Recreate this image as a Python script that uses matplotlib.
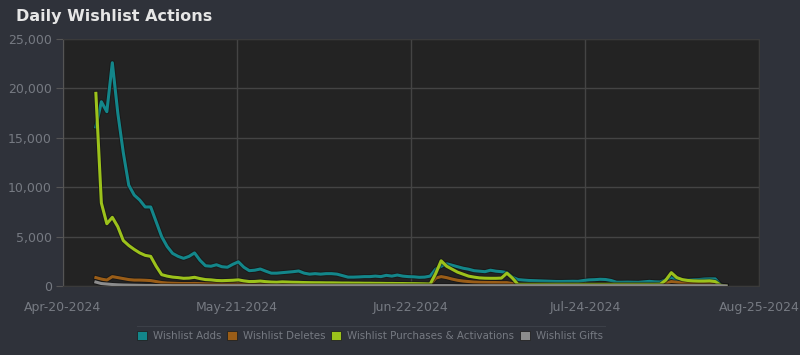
import matplotlib
matplotlib.use("Agg")
import matplotlib.pyplot as plt
import matplotlib.dates as mdates
from matplotlib.lines import Line2D
from matplotlib.patches import Patch
import numpy as np
import pandas as pd

# daily values, starting Apr-26-2024
start_date = "2024-04-26"
wishlist_adds = [
    16100, 18650, 17640, 22600, 17500, 13500, 10200, 9200, 8700, 8000,
    8000, 6500, 5000, 4000, 3300, 3000, 2800, 3000, 3350, 2600,
    2050, 2000, 2150, 1950, 1900, 2200, 2450, 1900, 1550, 1600,
    1720, 1500, 1300, 1300, 1350, 1400, 1450, 1520, 1300, 1200,
    1250, 1200, 1250, 1250, 1200, 1050, 900, 900, 920, 950,
    950, 1000, 950, 1080, 1000, 1110, 1000, 950, 930, 880,
    900, 1000, 1700, 2000, 2250, 2100, 1950, 1800, 1700, 1550,
    1500, 1450, 1600, 1500, 1450, 1350, 900, 650, 600, 560,
    540, 520, 500, 480, 460, 460, 470, 480, 470, 560,
    620, 640, 680, 660, 560, 380, 380, 390, 380, 370,
    420, 470, 420, 400, 650, 850, 650, 560, 600, 640,
    650, 700, 720, 720, 100, 0,
]
wishlist_deletes = [
    850, 700, 600, 950, 850, 750, 650, 600, 600, 580,
    550, 450, 350, 300, 280, 260, 250, 250, 260, 240,
    220, 210, 210, 200, 200, 200, 210, 190, 180, 180,
    180, 170, 160, 160, 160, 150, 150, 150, 140, 140,
    140, 140, 140, 130, 130, 130, 120, 120, 120, 120,
    120, 120, 120, 120, 120, 120, 120, 120, 120, 120,
    120, 120, 800, 950, 850, 700, 580, 500, 450, 400,
    380, 370, 360, 350, 340, 340, 250, 120, 100, 100,
    100, 100, 100, 100, 100, 100, 100, 100, 100, 100,
    100, 100, 100, 100, 100, 100, 100, 100, 100, 100,
    100, 100, 100, 100, 300, 450, 380, 330, 310, 300,
    300, 300, 300, 290, 50, 0,
]
wishlist_purchases = [
    19500, 8400, 6300, 6950, 6000, 4600, 4100, 3700, 3350, 3100,
    3000, 2000, 1150, 1000, 900, 850, 780, 800, 880, 750,
    650, 620, 560, 540, 560, 580, 620, 520, 450, 460,
    500, 440, 400, 380, 420, 400, 380, 370, 350, 340,
    330, 330, 320, 320, 310, 300, 300, 290, 290, 280,
    280, 270, 270, 260, 260, 250, 250, 240, 240, 230,
    220, 200, 1250, 2550, 2000, 1700, 1400, 1200, 1000, 900,
    820, 790, 780, 780, 800, 1300, 800, 170, 170, 170,
    170, 170, 170, 170, 170, 170, 170, 170, 170, 170,
    170, 170, 170, 170, 170, 170, 170, 170, 170, 170,
    170, 170, 170, 180, 600, 1350, 850, 650, 560, 520,
    500, 500, 520, 450, 80, 0,
]
wishlist_gifts = [
    400, 250, 200, 150, 120, 100, 90, 80, 70, 60,
    60, 50, 50, 50, 40, 40, 40, 40, 40, 40,
    30, 30, 30, 30, 30, 30, 30, 30, 30, 30,
    30, 30, 30, 30, 30, 30, 30, 30, 30, 30,
    30, 30, 30, 30, 30, 30, 30, 30, 30, 30,
    30, 30, 30, 30, 30, 30, 30, 30, 30, 30,
    30, 30, 40, 40, 40, 40, 30, 30, 30, 30,
    30, 30, 30, 30, 30, 30, 30, 30, 30, 30,
    30, 30, 30, 30, 30, 30, 30, 30, 30, 30,
    30, 30, 30, 30, 30, 30, 30, 30, 30, 30,
    30, 30, 30, 30, 30, 40, 30, 30, 30, 30,
    30, 30, 30, 30, 20, 0,
]

series_names = ["Wishlist Adds", "Wishlist Deletes",
                "Wishlist Purchases & Activations", "Wishlist Gifts"]
series_colors = ["#13868a", "#9a5d17", "#9cc21b", "#8c8c8c"]

x_start, x_end = "2024-04-20", "2024-08-25"
x_tick_labels = ["Apr-20-2024", "May-21-2024", "Jun-22-2024",
                 "Jul-24-2024", "Aug-25-2024"]
y_ticks = [0, 5000, 10000, 15000, 20000, 25000]

dates = pd.date_range(start_date, periods=len(wishlist_adds), freq="D")

fig = plt.figure(figsize=(8, 3.55), dpi=100, facecolor="#2f323a")
ax = fig.add_axes([63 / 800, 1 - 286 / 355, 696 / 800, 247 / 355])
ax.set_facecolor("#232323")

# draw back to front so adds sit on top like the original
order = [3, 1, 2, 0]
all_series = [wishlist_adds, wishlist_deletes, wishlist_purchases, wishlist_gifts]
for i in order:
    ax.plot(dates, all_series[i], color="#111111", lw=3.6, alpha=0.5,
            solid_joinstyle="round", zorder=2 + i * 0.1)
    ax.plot(dates, all_series[i], color=series_colors[i], lw=2.2,
            solid_joinstyle="round", zorder=2.05 + i * 0.1)

x0 = mdates.date2num(pd.Timestamp(x_start))
x1 = mdates.date2num(pd.Timestamp(x_end))
ax.set_xlim(x0, x1)
ax.set_xticks(np.linspace(x0, x1, len(x_tick_labels)))
ax.set_xticklabels(x_tick_labels)
ax.set_ylim(0, 25000)
ax.set_yticks(y_ticks)
ax.set_yticklabels([f"{v:,}" for v in y_ticks])

ax.grid(True, color="#444444", lw=1.0, zorder=0)
ax.set_axisbelow(True)
ax.tick_params(axis="x", length=0, colors="#767a82", labelsize=9, pad=11)
ax.tick_params(axis="y", length=5, width=0.8, color="#555555",
               colors="#767a82", labelsize=9, pad=3)
for side in ["top", "right", "bottom"]:
    ax.spines[side].set_color("#3a3a3a")
ax.spines["left"].set_color("#555555")

fig.text(16 / 800, 1 - 16 / 355, "Daily Wishlist Actions", color="#e6e6e6",
         fontsize=11.5, fontweight="bold", va="center", ha="left")

# thin separator above the legend
fig.add_artist(Line2D([137 / 800, 605 / 800], [1 - 326 / 355] * 2,
                      color="#3c4048", lw=0.8))

handles = [Patch(facecolor=c, edgecolor="#222222", lw=0.6) for c in series_colors]
leg = fig.legend(handles, series_names, loc="center",
                 bbox_to_anchor=(370 / 800, 1 - 336 / 355), ncol=4, frameon=False,
                 handlelength=0.95, handleheight=0.95, handletextpad=0.6,
                 columnspacing=0.55, fontsize=7.4)
for t in leg.get_texts():
    t.set_color("#767a82")

fig.savefig("out.png", dpi=100, facecolor=fig.get_facecolor())
